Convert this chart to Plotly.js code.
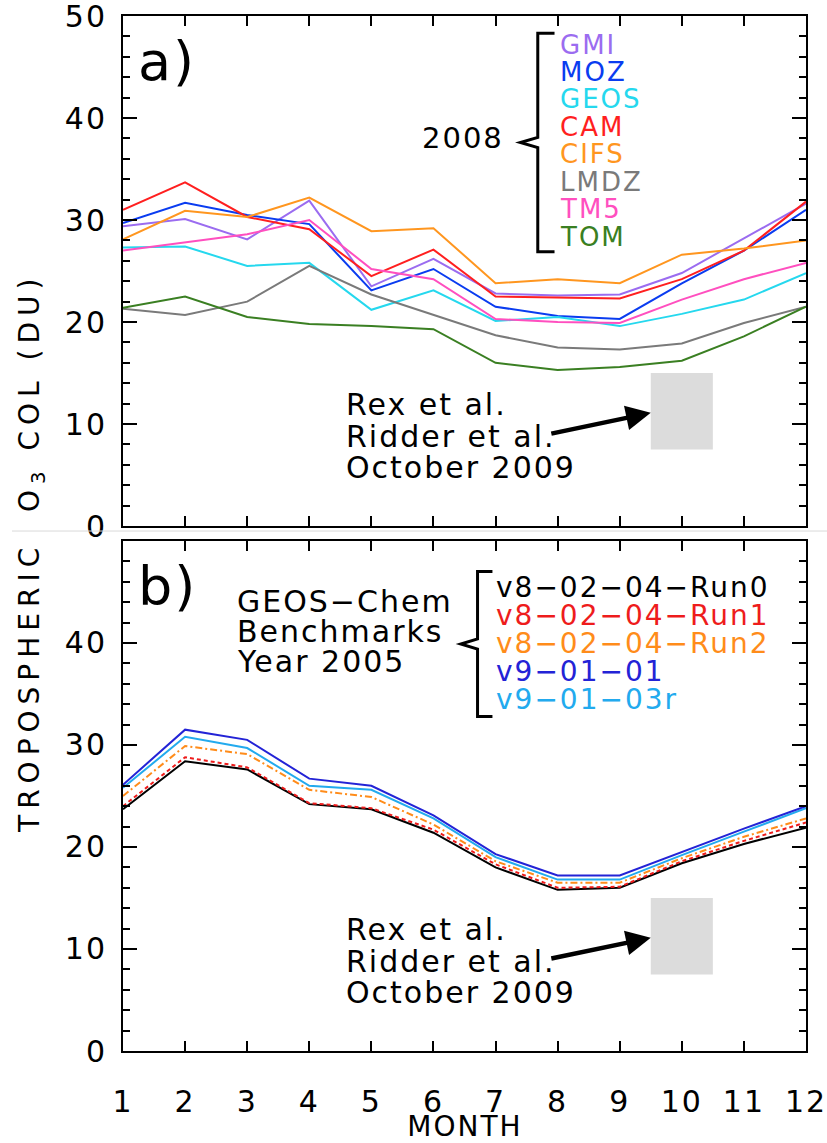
<!DOCTYPE html>
<html>
<head>
<meta charset="utf-8">
<script src="https://cdn.plot.ly/plotly-3.0.1.min.js"></script>
<style>
  html, body { margin: 0; padding: 0; background: #fff; }
  #chart { width: 827px; height: 1143px; }
  .main-svg text { letter-spacing: 2px; }
  .annotation[data-index="0"] text { letter-spacing: 6px; }
</style>
</head>
<body>
<div id="chart"></div>
<script>
// Months on the x axis
const months = [1, 2, 3, 4, 5, 6, 7, 8, 9, 10, 11, 12];

// (a) Model tropospheric O3 columns, 2008 (DU)
const modelNames  = ['GMI', 'MOZ', 'GEOS', 'CAM', 'CIFS', 'LMDZ', 'TM5', 'TOM'];
const modelColors = ['#9b6cf0', '#0a3cf0', '#25d8ee', '#ff1f1f', '#ff961f', '#7a7a7a', '#ff4fbf', '#3a7f22'];
const gmi  = [29.4, 30.1, 28.1, 31.9, 23.5, 26.2, 22.8, 22.6, 22.7, 24.8, 28.2, 31.6];
const moz  = [29.7, 31.7, 30.5, 29.6, 23.1, 25.2, 21.5, 20.6, 20.3, 23.8, 27.0, 31.0];
const geos = [27.3, 27.4, 25.5, 25.8, 21.2, 23.1, 20.1, 20.5, 19.6, 20.8, 22.2, 24.8];
const cam  = [31.0, 33.7, 30.3, 29.1, 24.5, 27.1, 22.5, 22.4, 22.3, 24.2, 27.0, 31.8];
const cifs = [28.1, 30.9, 30.3, 32.2, 28.9, 29.2, 23.8, 24.2, 23.8, 26.6, 27.2, 28.0];
const lmdz = [21.3, 20.7, 22.0, 25.5, 22.7, 20.7, 18.7, 17.5, 17.3, 17.9, 19.9, 21.5];
const tm5  = [27.0, 27.8, 28.6, 30.0, 25.2, 24.2, 20.3, 20.0, 19.9, 22.2, 24.2, 25.8];
const tom  = [21.4, 22.5, 20.5, 19.8, 19.6, 19.3, 16.0, 15.3, 15.6, 16.2, 18.6, 21.5];
const modelSeries = [gmi, moz, geos, cam, cifs, lmdz, tm5, tom];

// (b) GEOS-Chem benchmark runs, year 2005 (DU)
const runNames  = ['v8\u221202\u221204\u2212Run0', 'v8\u221202\u221204\u2212Run1', 'v8\u221202\u221204\u2212Run2', 'v9\u221201\u221201', 'v9\u221201\u221203r'];
const runColors = ['#000000', '#ee1c1c', '#ff8c1a', '#2323d6', '#22aaee'];
const runDashes = ['solid', '4px,3px', '7px,3px,2px,3px', 'solid', 'solid'];
const run0    = [23.7, 28.4, 27.6, 24.2, 23.7, 21.4, 18.0, 15.8, 16.0, 18.4, 20.3, 21.9];
const run1    = [24.0, 28.8, 27.8, 24.3, 23.8, 21.7, 18.3, 16.0, 16.1, 18.6, 20.6, 22.4];
const run2    = [25.0, 29.9, 29.1, 25.6, 24.9, 22.2, 18.6, 16.5, 16.5, 18.9, 21.0, 22.8];
const v90101  = [26.1, 31.5, 30.5, 26.7, 26.0, 23.1, 19.3, 17.2, 17.2, 19.5, 21.8, 24.0];
const v90103r = [25.8, 30.8, 29.7, 26.0, 25.6, 22.8, 19.0, 16.8, 16.8, 19.2, 21.5, 23.8];
const runSeries = [run0, run1, run2, v90101, v90103r];
const runDrawOrder = [4, 3, 2, 0, 1];

// Observed October 2009 range (Rex et al.; Ridder et al.)
const obsMonthSpan = [9.5, 10.5];
const obsColumnSpan = [7.5, 15];
const obsLines = ['Rex et al.', 'Ridder et al.', 'October 2009'];

const FONT = 'DejaVu Sans, Verdana, sans-serif';
const traces = [];

function obsBox(xa, ya) {
  return {
    x: [obsMonthSpan[0], obsMonthSpan[1], obsMonthSpan[1], obsMonthSpan[0], obsMonthSpan[0]],
    y: [obsColumnSpan[0], obsColumnSpan[0], obsColumnSpan[1], obsColumnSpan[1], obsColumnSpan[0]],
    xaxis: xa, yaxis: ya, mode: 'lines', fill: 'toself',
    fillcolor: '#dcdcdc', line: {width: 0, color: '#dcdcdc'},
    showlegend: false, hoverinfo: 'skip'
  };
}
traces.push(obsBox('x', 'y'));
traces.push(obsBox('x2', 'y2'));

modelSeries.forEach((vals, i) => {
  traces.push({
    x: months, y: vals, xaxis: 'x', yaxis: 'y', mode: 'lines', name: modelNames[i],
    line: {color: modelColors[i], width: 2}, showlegend: false
  });
});
runDrawOrder.forEach(i => {
  traces.push({
    x: months, y: runSeries[i], xaxis: 'x2', yaxis: 'y2', mode: 'lines', name: runNames[i],
    line: {color: runColors[i], width: 2, dash: runDashes[i]}, showlegend: false
  });
});

const axisCommon = {
  showline: true, linecolor: '#000', linewidth: 2, mirror: 'allticks',
  ticks: 'inside', tickcolor: '#000', tickwidth: 2,
  showgrid: false, zeroline: false, fixedrange: true,
  ticklabeloverflow: 'allow',
  tickfont: {family: FONT, size: 30, color: '#000'}
};

const xAxisBase = Object.assign({}, axisCommon, {
  range: [1, 12], tickmode: 'array', tickvals: months, ticklen: 10
});
const yAxisBase = Object.assign({}, axisCommon, {
  range: [0, 50], ticklen: 14, ticklabelstandoff: 8,
  minor: {dtick: 2, ticks: 'inside', ticklen: 7, tickwidth: 2, tickcolor: '#000', showgrid: false}
});

const annotations = [];
// y axis title shared by both panels
annotations.push({
  xref: 'paper', yref: 'paper', x: -0.135, y: 0.481, xanchor: 'center', yanchor: 'middle',
  text: 'TROPOSPHERIC  O<sub>3</sub> COL (DU)', textangle: -90, showarrow: false,
  font: {family: FONT, size: 28, color: '#000'}
});
// text label; left-anchored labels get a fixed box so lines can sit close together
function label(xr, yr, x, y, t, size, color, anchor, w, h) {
  const a = {xref: xr, yref: yr, x: x, y: y, text: t, showarrow: false,
    xanchor: anchor, yanchor: 'middle', align: anchor === 'left' ? 'left' : 'center',
    font: {family: FONT, size: size, color: color}};
  if (w) { a.width = w; a.height = h; }
  return a;
}
// panel (a) labels
annotations.push(label('x', 'y', 1.71, 45.5, 'a)', 54, '#000', 'center'));
annotations.push(label('x', 'y', 6.47, 38.0, '2008', 29, '#000', 'center'));
modelNames.forEach((nm, i) => {
  annotations.push(label('x', 'y', 8.0, 47.2 - i * 2.69, nm, 26, modelColors[i], 'left', 120, 26));
});
function obsText(xr, yr) {
  obsLines.forEach((t, i) => {
    annotations.push(label(xr, yr, 4.56, 11.9 - i * 3.1, t, 30, '#000', 'left', 260, 31));
  });
  annotations.push({xref: xr, yref: yr, axref: xr, ayref: yr, x: 9.5, y: 11.1, ax: 7.85, ay: 9.0,
    text: ' ', showarrow: true, arrowhead: 2, arrowsize: 1.1, arrowwidth: 4.5, arrowcolor: '#000', standoff: 0});
}
obsText('x', 'y');
// panel (b) labels
annotations.push(label('x2', 'y2', 1.71, 45.5, 'b)', 54, '#000', 'center'));
['GEOS\u2212Chem', 'Benchmarks', 'Year 2005'].forEach((t, i) => {
  annotations.push(label('x2', 'y2', 2.8, 44.1 - i * 2.95, t, 30, '#000', 'left', 225, 30));
});
runNames.forEach((nm, i) => {
  annotations.push(label('x2', 'y2', 6.98, 45.4 - i * 2.73, nm, 28, runColors[i], 'left', 310, 27));
});
obsText('x2', 'y2');
// x axis title
annotations.push({xref: 'paper', yref: 'paper', x: 0.5, y: -0.0725, text: 'MONTH', showarrow: false,
  xanchor: 'center', yanchor: 'middle', width: 160, height: 30, font: {family: FONT, size: 28, color: '#000'}});

// curly brackets grouping the legend names
function bracketPath(xv, xr, xl, yt, yb, ym) {
  return `M ${xr} ${yt} L ${xv} ${yt} L ${xv} ${ym + 0.5} L ${xl} ${ym} L ${xv} ${ym - 0.5} L ${xv} ${yb} L ${xr} ${yb}`;
}
const shapes = [
  {type: 'path', xref: 'x', yref: 'y', path: bracketPath(7.68, 7.95, 7.40, 48.3, 26.9, 37.6),
   line: {color: '#000', width: 3}},
  {type: 'path', xref: 'x2', yref: 'y2', path: bracketPath(6.71, 6.95, 6.44, 47.0, 32.8, 39.9),
   line: {color: '#000', width: 3}},
  {type: 'line', xref: 'paper', yref: 'paper', x0: -0.1625, x1: 1.031, y0: 0.5024, y1: 0.5024,
   line: {color: '#d9d9d9', width: 1}}
];

const layout = {
  width: 827, height: 1143,
  margin: {l: 123, r: 21, t: 16, b: 92},
  paper_bgcolor: '#fff', plot_bgcolor: '#fff',
  showlegend: false,
  xaxis: Object.assign({}, xAxisBase, {anchor: 'y', showticklabels: false}),
  yaxis: Object.assign({}, yAxisBase, {domain: [0.5072, 1.0], anchor: 'x', tickvals: [0, 10, 20, 30, 40, 50]}),
  xaxis2: Object.assign({}, xAxisBase, {anchor: 'y2', ticklabelstandoff: 23}),
  yaxis2: Object.assign({}, yAxisBase, {domain: [0, 0.4928], anchor: 'x2', tickvals: [0, 10, 20, 30, 40]}),
  annotations: annotations,
  shapes: shapes
};

Plotly.newPlot('chart', traces, layout, {staticPlot: true, displayModeBar: false});
</script>
</body>
</html>
